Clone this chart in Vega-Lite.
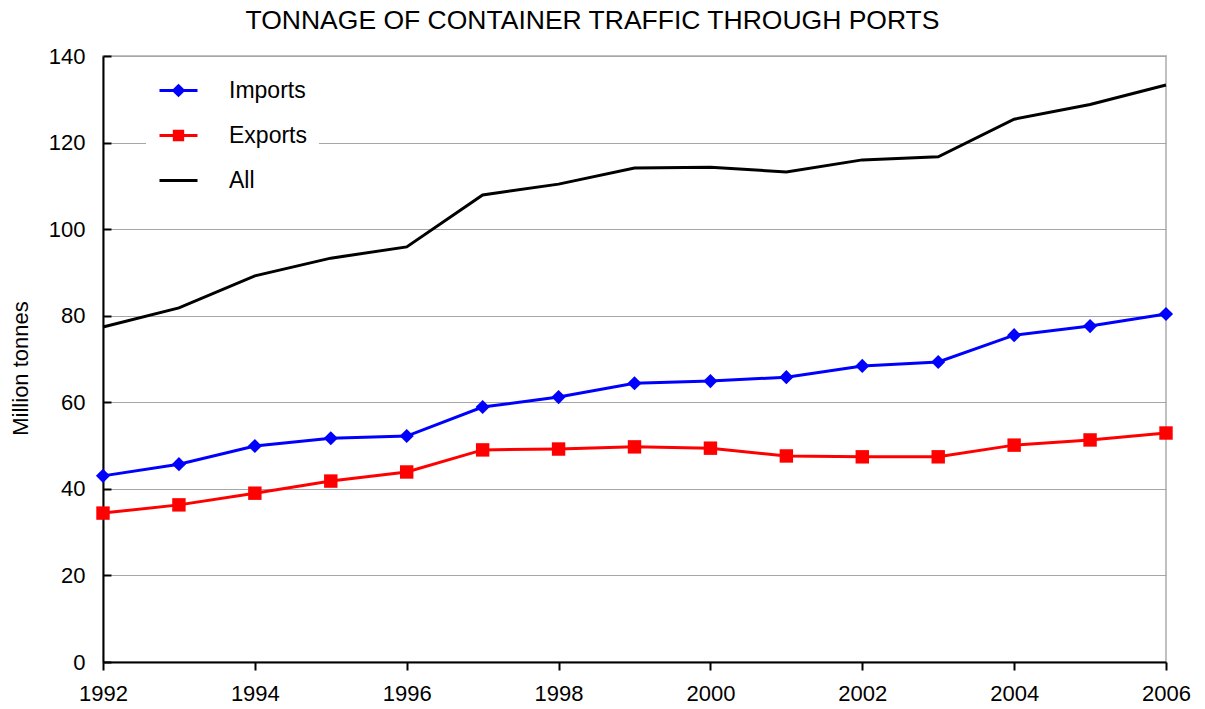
{
  "$schema": "https://vega.github.io/schema/vega-lite/v6.json",
  "width": 1063,
  "height": 606,
  "autosize": {"type": "none"},
  "padding": {"left": 103, "top": 56, "right": 39, "bottom": 47},
  "title": {"text": "TONNAGE OF CONTAINER TRAFFIC THROUGH PORTS", "fontSize": 26.5, "fontWeight": "normal", "color": "black", "offset": 11, "dx": -42, "anchor": "middle"},
  "config": {
    "font": "Liberation Sans",
    "view": {"stroke": "#c0c0c0", "strokeWidth": 2},
    "axis": {"domainColor": "black", "domainWidth": 2, "tickColor": "black", "tickWidth": 2, "labelColor": "black", "labelFontSize": 22, "gridColor": "#a6a6a6", "gridWidth": 1, "titleColor": "black", "titleFontWeight": "normal"},
    "legend": {"orient": "none", "legendX": 43, "legendY": 2, "padding": 12, "fillColor": "white", "symbolSize": 1444, "labelFontSize": 23, "labelColor": "black", "labelOffset": 30, "rowPadding": 12, "symbolStrokeWidth": 3, "symbolOpacity": 1}
  },
  "data": {"values": [
    {"year": 1992, "series": "Imports", "value": 43.0},
    {"year": 1993, "series": "Imports", "value": 45.7},
    {"year": 1994, "series": "Imports", "value": 49.9},
    {"year": 1995, "series": "Imports", "value": 51.7},
    {"year": 1996, "series": "Imports", "value": 52.2},
    {"year": 1997, "series": "Imports", "value": 58.9},
    {"year": 1998, "series": "Imports", "value": 61.2},
    {"year": 1999, "series": "Imports", "value": 64.4},
    {"year": 2000, "series": "Imports", "value": 64.9},
    {"year": 2001, "series": "Imports", "value": 65.8},
    {"year": 2002, "series": "Imports", "value": 68.4},
    {"year": 2003, "series": "Imports", "value": 69.3},
    {"year": 2004, "series": "Imports", "value": 75.5},
    {"year": 2005, "series": "Imports", "value": 77.6},
    {"year": 2006, "series": "Imports", "value": 80.4},
    {"year": 1992, "series": "Exports", "value": 34.4},
    {"year": 1993, "series": "Exports", "value": 36.3},
    {"year": 1994, "series": "Exports", "value": 39.0},
    {"year": 1995, "series": "Exports", "value": 41.8},
    {"year": 1996, "series": "Exports", "value": 43.9},
    {"year": 1997, "series": "Exports", "value": 49.0},
    {"year": 1998, "series": "Exports", "value": 49.2},
    {"year": 1999, "series": "Exports", "value": 49.7},
    {"year": 2000, "series": "Exports", "value": 49.4},
    {"year": 2001, "series": "Exports", "value": 47.6},
    {"year": 2002, "series": "Exports", "value": 47.4},
    {"year": 2003, "series": "Exports", "value": 47.4},
    {"year": 2004, "series": "Exports", "value": 50.1},
    {"year": 2005, "series": "Exports", "value": 51.3},
    {"year": 2006, "series": "Exports", "value": 52.9},
    {"year": 1992, "series": "All", "value": 77.4},
    {"year": 1993, "series": "All", "value": 81.8},
    {"year": 1994, "series": "All", "value": 89.2},
    {"year": 1995, "series": "All", "value": 93.3},
    {"year": 1996, "series": "All", "value": 95.9},
    {"year": 1997, "series": "All", "value": 107.9},
    {"year": 1998, "series": "All", "value": 110.4},
    {"year": 1999, "series": "All", "value": 114.1},
    {"year": 2000, "series": "All", "value": 114.3},
    {"year": 2001, "series": "All", "value": 113.2},
    {"year": 2002, "series": "All", "value": 116.0},
    {"year": 2003, "series": "All", "value": 116.7},
    {"year": 2004, "series": "All", "value": 125.4},
    {"year": 2005, "series": "All", "value": 128.8},
    {"year": 2006, "series": "All", "value": 133.3}
  ]},
  "encoding": {
    "x": {"field": "year", "type": "quantitative", "scale": {"domain": [1992, 2006], "nice": false, "zero": false},
      "axis": {"values": [1992, 1994, 1996, 1998, 2000, 2002, 2004, 2006], "format": "d", "title": null, "grid": false, "tickSize": 8, "labelPadding": 13, "labelFlush": false}},
    "y": {"field": "value", "type": "quantitative", "scale": {"domain": [0, 140], "nice": false},
      "axis": {"values": [0, 20, 40, 60, 80, 100, 120, 140], "title": "Million tonnes", "titleFontSize": 22, "titleX": -76, "titleY": 312, "titleBaseline": "alphabetic", "grid": true, "tickSize": -8, "labelPadding": 26}}
  },
  "layer": [
    {
      "mark": {"type": "line", "strokeWidth": 3},
      "encoding": {
        "color": {"field": "series", "type": "nominal", "title": null, "scale": {"domain": ["All", "Exports", "Imports"], "range": ["#000000", "#ff0000", "#0000ff"]}, "legend": null}
      }
    },
    {
      "transform": [{"filter": "datum.series === 'Imports'"}],
      "mark": {"type": "point", "filled": true, "shape": "diamond", "size": 200, "color": "#0000ff", "opacity": 1}
    },
    {
      "transform": [{"filter": "datum.series === 'Exports'"}],
      "mark": {"type": "point", "filled": true, "shape": "square", "size": 180, "color": "#ff0000", "opacity": 1}
    },
    {
      "mark": {"type": "point", "filled": true, "opacity": 0, "strokeWidth": 3},
      "encoding": {
        "fill": {"field": "series", "type": "nominal", "title": null, "scale": {"domain": ["Imports", "Exports", "All"], "range": ["#0000ff", "#ff0000", "#000000"]}, "legend": {"title": null}},
        "stroke": {"field": "series", "type": "nominal", "title": null, "scale": {"domain": ["Imports", "Exports", "All"], "range": ["#0000ff", "#ff0000", "#000000"]}, "legend": {"title": null}},
        "shape": {"field": "series", "type": "nominal", "title": null, "scale": {"domain": ["Imports", "Exports", "All"], "range": ["M-1,0H1M0,-0.25L0.25,0L0,0.25L-0.25,0Z", "M-1,0H1M-0.22,-0.22H0.22V0.22H-0.22Z", "M-1,0H1"]}, "legend": {"title": null}}
      }
    }
  ]
}
